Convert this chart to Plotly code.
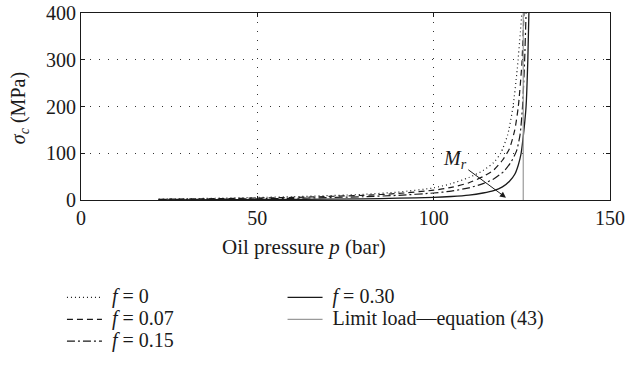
import plotly.graph_objects as go

# Contact stress sigma_c versus oil pressure p for several friction coefficients f
p_f000 = [22, 40, 60, 80, 90, 100, 105, 110, 114, 117, 119, 121, 122.5, 123.7, 124.6, 125.0]
s_f000 = [2, 4, 7, 12, 17, 26, 35, 48, 63, 80, 100, 140, 200, 280, 360, 400]

p_f007 = [22, 40, 60, 80, 90, 100, 105, 110, 114, 117, 119.5, 121.5, 123, 124, 125, 125.6]
s_f007 = [1.5, 3, 5.5, 10, 14, 21, 27, 37, 50, 64, 85, 110, 150, 200, 290, 400]

p_f015 = [22, 40, 60, 80, 90, 100, 105, 110, 114, 117, 120, 122, 123.5, 124.5, 125.2, 125.8, 126.2]
s_f015 = [1, 2, 3.5, 7, 10, 15, 19, 26, 35, 45, 62, 82, 105, 140, 200, 300, 400]

p_f030 = [22, 40, 60, 80, 90, 100, 105, 110, 114, 117, 119.5, 121.5, 123, 124, 124.8, 125.6, 126.2, 126.7, 127.0]
s_f030 = [0.3, 0.6, 1.2, 2.5, 3.8, 5.5, 7.5, 10.5, 15, 20, 28, 40, 55, 75, 100, 150, 200, 300, 400]

# Limit load from equation (43)
p_limit = [125.4, 125.4]
s_limit = [0, 400]

x_ticks = [0, 50, 100, 150]
y_ticks = [0, 100, 200, 300, 400]

FONT = "Liberation Serif"
BLACK = "#1a1a1a"


def legend_text(t):
    return '<span style="font-size:20px">&nbsp;' + t + "</span>"


fig = go.Figure()

series = [
    (p_f000, s_f000, "<i>f</i> = 0", "1px,3px"),
    (p_f007, s_f007, "<i>f</i> = 0.07", "6px,4px"),
    (p_f015, s_f015, "<i>f</i> = 0.15", "8px,3px,2px,3px"),
]
for px_, sy, name, dash in series:
    fig.add_trace(go.Scatter(
        x=px_, y=sy, mode="lines", name=legend_text(name),
        line=dict(color=BLACK, width=1.2, dash=dash, shape="spline", smoothing=0.6),
        legend="legend",
    ))

fig.add_trace(go.Scatter(
    x=p_f030, y=s_f030, mode="lines", name=legend_text("<i>f</i> = 0.30"),
    line=dict(color=BLACK, width=1.3, shape="spline", smoothing=0.6),
    legend="legend2",
))
fig.add_trace(go.Scatter(
    x=p_limit, y=s_limit, mode="lines", name=legend_text("Limit load\u2014equation (43)"),
    line=dict(color="#9a9a9a", width=1.2),
    legend="legend2",
))

# Friction moment label with its pointer
fig.add_annotation(
    x=120.5, y=5, ax=106, ay=86, xref="x", yref="y", axref="x", ayref="y",
    text="<i>M</i><sub><i>r</i></sub>", showarrow=True,
    arrowhead=2, arrowsize=1.2, arrowwidth=1, arrowcolor=BLACK,
    font=dict(family=FONT, size=20, color=BLACK),
)

# axis titles
fig.add_annotation(
    x=0.4215, y=-0.251, xref="paper", yref="paper",
    xanchor="center", yanchor="middle", showarrow=False,
    text="Oil pressure <i>p</i> (bar)",
    font=dict(family=FONT, size=21, color=BLACK),
)
fig.add_annotation(
    x=-0.115, y=0.492, xref="paper", yref="paper",
    xanchor="center", yanchor="middle", showarrow=False, textangle=-90,
    text="<i>\u03c3</i><sub><i>c</i></sub> (MPa)",
    font=dict(family=FONT, size=20, color=BLACK),
)

axis_common = dict(
    showline=True, linecolor=BLACK, linewidth=1, mirror="ticks",
    ticks="inside", ticklen=4, tickcolor=BLACK,
    showgrid=True, gridcolor="#333333", gridwidth=1, griddash="1px,8px",
    zeroline=False, tickfont=dict(family=FONT, size=20, color=BLACK),
)

fig.update_xaxes(range=[0, 150], tickvals=x_ticks, **axis_common)
fig.update_yaxes(range=[0, 400], tickvals=y_ticks, **axis_common)

legend_common = dict(
    orientation="v", xanchor="left", yanchor="top",
    font=dict(family=FONT, size=14.5, color=BLACK),
    bgcolor="rgba(0,0,0,0)", borderwidth=0, tracegroupgap=0,
    itemwidth=35,
)

fig.update_layout(
    width=625, height=368,
    margin=dict(l=81, r=15, t=13, b=168, autoexpand=False),
    plot_bgcolor="white", paper_bgcolor="white",
    font=dict(family=FONT, color=BLACK),
    showlegend=True,
    legend=dict(x=-0.036, y=-0.436, **legend_common),
    legend2=dict(x=0.381, y=-0.436, **legend_common),
)

fig.write_html("out.html")
